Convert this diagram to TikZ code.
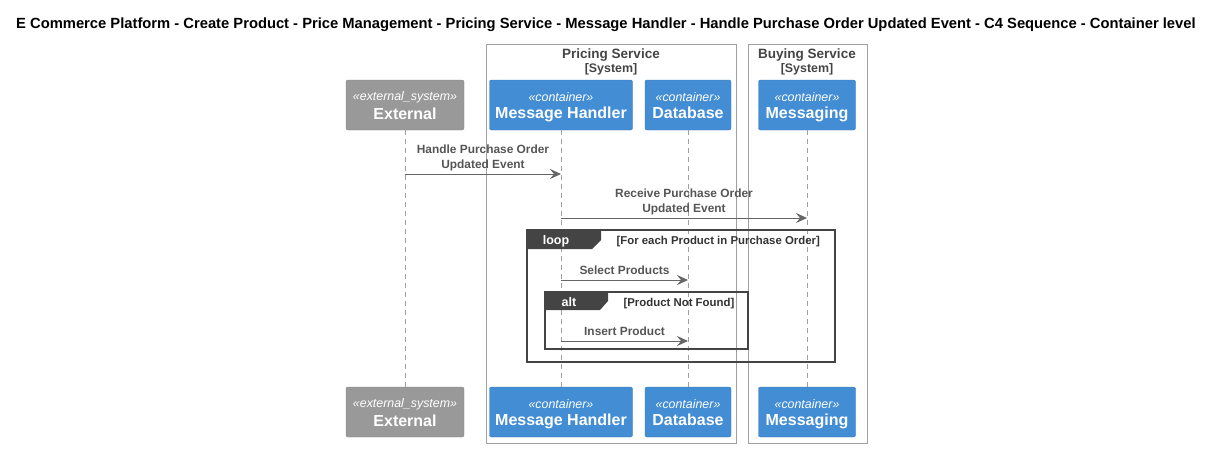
\documentclass[tikz,border=0pt]{standalone}
\usepackage{fontspec}
\setmainfont{Liberation Sans}
\usetikzlibrary{arrows.meta}

\definecolor{c4blue}{HTML}{438DD5}
\definecolor{c4ext}{HTML}{999999}
\definecolor{msggray}{HTML}{666666}
\definecolor{txtgray}{HTML}{555555}
\definecolor{framedark}{HTML}{444444}
\definecolor{bordergray}{HTML}{A0A0A0}

\tikzset{
  part/.style={rectangle, rounded corners=2pt, draw=#1!85!black, fill=#1,
    text=white, align=center, minimum height=50pt, inner sep=0},
  lifeline/.style={draw=bordergray, dash pattern=on 5pt off 4pt, line width=0.6pt},
  msg/.style={draw=msggray, line width=0.9pt, -{Stealth[length=11pt, width=10pt, inset=4pt]}},
  msglabel/.style={above=3pt, inner sep=2pt, text depth=0pt, align=center, text=txtgray,
    font=\fontsize{11.9}{15}\selectfont\bfseries},
  boundary/.style={draw=bordergray, line width=0.7pt},
  frame/.style={draw=framedark, line width=1.2pt},
  tag/.style={anchor=base, text=white, font=\fontsize{12.5}{14}\selectfont\bfseries},
  guard/.style={anchor=base west, text=black!80, font=\fontsize{11.4}{13}\selectfont\bfseries},
  syslabel/.style={align=center, text=framedark, font=\fontsize{13.5}{15}\selectfont\bfseries},
}

\newcommand{\stereo}[2]{{\fontsize{12.4}{14}\selectfont\itshape\rule{0pt}{15.8pt}«#1»}\\[3pt]{\fontsize{16}{18}\selectfont\bfseries\strut #2}}

\begin{document}
\begin{tikzpicture}[x=1pt, y=-1pt]
  \useasboundingbox (0,0) rectangle (1213,448);

  \node[font=\fontsize{14.75}{17}\selectfont\bfseries] (title) at (606,25)
    {E Commerce Platform - Create Product - Price Management - Pricing Service - Message Handler - Handle Purchase Order Updated Event - C4 Sequence - Container level};

  % system boundaries
  \draw[boundary] (486,44) rectangle (736,443);
  \draw[boundary] (748,44) rectangle (867,443);
  \node[syslabel] (pricing) at (611,62)
    {Pricing Service\\[-1pt]{\fontsize{12.4}{14}\selectfont [System]}};
  \node[syslabel] (buying) at (807,62)
    {Buying Service\\[-1pt]{\fontsize{12.4}{14}\selectfont [System]}};

  % participants, top
  \node[part=c4ext, minimum width=118pt] (exttop) at (405,105) {\stereo{external\_system}{External}};
  \node[part=c4blue, minimum width=143pt] (mhtop) at (561,105) {\stereo{container}{Message Handler}};
  \node[part=c4blue, minimum width=86pt] (dbtop) at (688,105) {\stereo{container}{Database}};
  \node[part=c4blue, minimum width=97pt] (msgtop) at (807,105) {\stereo{container}{Messaging}};

  % participants, bottom
  \node[part=c4ext, minimum width=118pt] (extbot) at (405,412) {\stereo{external\_system}{External}};
  \node[part=c4blue, minimum width=143pt] (mhbot) at (561,412) {\stereo{container}{Message Handler}};
  \node[part=c4blue, minimum width=86pt] (dbbot) at (688,412) {\stereo{container}{Database}};
  \node[part=c4blue, minimum width=97pt] (msgbot) at (807,412) {\stereo{container}{Messaging}};

  % lifelines
  \draw[lifeline] (exttop.south) -- (extbot.north);
  \draw[lifeline] (mhtop.south) -- (mhbot.north);
  \draw[lifeline] (dbtop.south) -- (dbbot.north);
  \draw[lifeline] (msgtop.south) -- (msgbot.north);

  % messages
  \coordinate (handle-from) at (exttop.south |- 0,174);
  \coordinate (handle-to) at (mhtop.south |- 0,174);
  \draw[msg] (handle-from) -- (handle-to)
    node[midway, msglabel] {Handle Purchase Order\\Updated Event};

  \coordinate (receive-from) at (mhtop.south |- 0,218);
  \coordinate (receive-to) at (msgtop.south |- 0,218);
  \draw[msg] (receive-from) -- (receive-to)
    node[midway, msglabel] {Receive Purchase Order\\Updated Event};

  % loop frame
  \draw[frame] (527,230) rectangle (835,362);
  \fill[framedark] (527,230) -- (601,230) -- (601,240) -- (592,249) -- (527,249) -- cycle;
  \node[tag] (looptag) at (556,244.5) {loop};
  \node[guard] (loopguard) at (613,244) {[For each Product in Purchase Order]};

  \coordinate (select-from) at (mhtop.south |- 0,280);
  \coordinate (select-to) at (dbtop.south |- 0,280);
  \draw[msg] (select-from) -- (select-to)
    node[midway, msglabel] {Select Products};

  % alt frame
  \draw[frame] (545,292) rectangle (748,349);
  \fill[framedark] (545,292) -- (608,292) -- (608,301) -- (600,310) -- (545,310) -- cycle;
  \node[tag] (alttag) at (569,306.5) {alt};
  \node[guard] (altguard) at (620,306) {[Product Not Found]};

  \coordinate (insert-from) at (mhtop.south |- 0,341);
  \coordinate (insert-to) at (dbtop.south |- 0,341);
  \draw[msg] (insert-from) -- (insert-to)
    node[midway, msglabel] {Insert Product};
\end{tikzpicture}
\end{document}
